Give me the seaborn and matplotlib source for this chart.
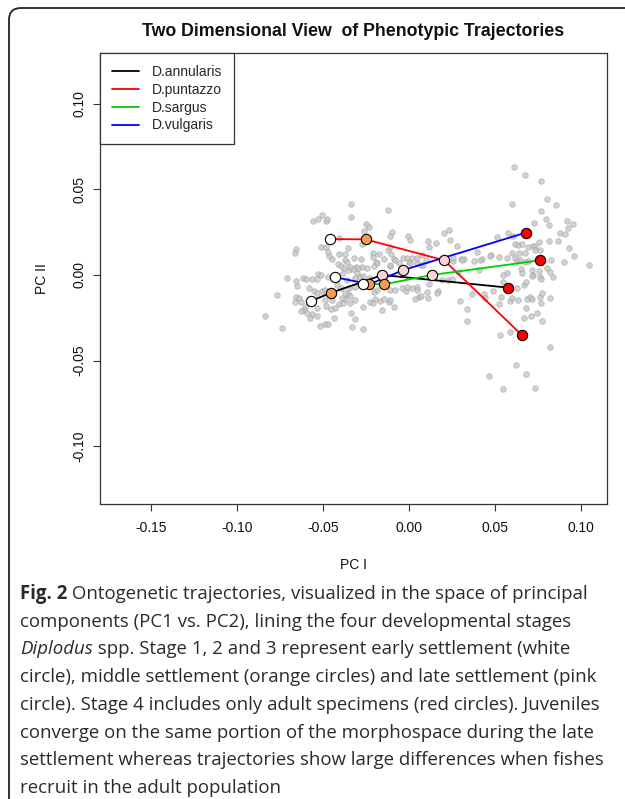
import numpy as np
import pandas as pd
import matplotlib
matplotlib.use("Agg")
import matplotlib.pyplot as plt
import seaborn as sns
from matplotlib.lines import Line2D
from matplotlib.patches import FancyBboxPatch
from matplotlib.transforms import IdentityTransform

# ---------------- data ----------------
species = ["D.annularis", "D.puntazzo", "D.sargus", "D.vulgaris"]
species_colors = ["#000000", "#ff0000", "#00cd00", "#0000ff"]
stages = [1, 2, 3, 4]
stage_fill = ["#ffffff", "#f79a57", "#f8d4d2", "#ff0000"]

annularis_pc1 = [-0.0570, -0.0454, -0.0155, 0.0579]
annularis_pc2 = [-0.0152, -0.0104, 0.0000, -0.0074]
puntazzo_pc1 = [-0.0459, -0.0253, 0.0205, 0.0656]
puntazzo_pc2 = [0.0210, 0.0208, 0.0086, -0.0350]
sargus_pc1 = [-0.0268, -0.0144, 0.0134, 0.0765]
sargus_pc2 = [-0.0051, -0.0054, 0.0000, 0.0086]
vulgaris_pc1 = [-0.0430, -0.0230, -0.0032, 0.0679]
vulgaris_pc2 = [-0.0013, -0.0054, 0.0029, 0.0247]

specimens_pc1 = [
    -0.0335, -0.0123, -0.0335, -0.0507, -0.0527, -0.0560, -0.0484, -0.0476, -0.0251, -0.0230,
    -0.0259, -0.0096, -0.0109, -0.0004, 0.0005, 0.0110, -0.0406, -0.0271, -0.0511, -0.0482,
    -0.0356, -0.0659, -0.0665, -0.0474, -0.0467, -0.0449, -0.0406, -0.0372, -0.0374, -0.0412,
    -0.0395, -0.0376, -0.0358, -0.0323, -0.0282, -0.0309, -0.0348, -0.0327, -0.0274, -0.0245,
    -0.0212, -0.0212, -0.0177, -0.0193, -0.0206, -0.0148, -0.0121, -0.0111, -0.0102, -0.0090,
    -0.0113, -0.0059, -0.0034, -0.0010, 0.0017, 0.0001, 0.0046, 0.0069, 0.0073, 0.0097,
    0.0114, -0.0710, -0.0618, -0.0599, -0.0527, -0.0511, -0.0469, -0.0385, -0.0300, -0.0288,
    -0.0269, -0.0230,
    0.0613, 0.0673, 0.0766, 0.0805, 0.0855, 0.0597, 0.0768, 0.0729, 0.0797, 0.0813,
    0.0920, 0.0955, 0.0926, 0.0877, 0.0906, 0.0205, 0.0234, 0.0240, 0.0156, 0.0280,
    0.0302, 0.0321, 0.0381, 0.0428, 0.0395, 0.0477, 0.0525, 0.0570, 0.0615, 0.0514,
    0.0576, 0.0603, 0.0615, 0.0634, 0.0657, 0.0692, 0.0720, 0.0735, 0.0758, 0.0731,
    0.0764, 0.0638, 0.0677, 0.0599, 0.0692, 0.0644, 0.0628, 0.0675, 0.0650, 0.0716,
    0.0758, 0.0813, 0.0867, 0.0929, 0.0960, 0.0904, 0.0826, 0.0801, 0.0824, 0.0838,
    0.1048, 0.0764, 0.0725, 0.0657, 0.0572, 0.0545, 0.0255, 0.0405, 0.0288,
    -0.0655, -0.0564, -0.0537, -0.0653, -0.0585, -0.0554, -0.0535, -0.0509, -0.0488, -0.0770,
    -0.0659, -0.0640, -0.0663, -0.0628, -0.0605, -0.0609, -0.0626, -0.0595, -0.0566, -0.0579,
    -0.0535, -0.0535, -0.0488, -0.0482, -0.0453, -0.0430, -0.0410, -0.0387, -0.0370, -0.0354,
    -0.0344, -0.0315, -0.0838, -0.0741, -0.0517, -0.0488, -0.0469, -0.0436, -0.0340, -0.0313,
    -0.0329, -0.0269, -0.0226, -0.0197, -0.0168, -0.0144, -0.0119, -0.0090, -0.0156, -0.0206,
    -0.0187, -0.0109, -0.0080, -0.0041, -0.0016, 0.0017, 0.0046, 0.0056, 0.0036, 0.0071,
    0.0110, 0.0114, -0.0313, -0.0420, -0.0395, -0.0375, -0.0348, -0.0449,
    0.0168, 0.0191, 0.0230, 0.0253, 0.0298, 0.0337, 0.0335, 0.0366, 0.0434, 0.0440,
    0.0488, 0.0523, 0.0537, 0.0547, 0.0591, 0.0599, 0.0634, 0.0630, 0.0669, 0.0683,
    0.0719, 0.0770, 0.0686, 0.0706, 0.0719, 0.0764, 0.0774, 0.0768, 0.0821, 0.0683,
    0.0708, 0.0669, 0.0747, 0.0772, 0.0531, 0.0589, 0.0821, 0.0626, 0.0681, 0.0465,
    0.0545, 0.0735,
    -0.0343, -0.0295, -0.0188, -0.0110, -0.0081, 0.0007, 0.0045, 0.0084, 0.0259, 0.0309,
    0.0415, 0.0473, -0.0362, -0.0314, -0.0013, 0.0045, 0.0104, 0.0162, -0.0110, -0.0207,
    -0.0265, -0.0343, -0.0392,
]
specimens_pc2 = [
    0.0413, 0.0380, 0.0337, 0.0349, 0.0325, 0.0314, 0.0316, 0.0325, 0.0298, 0.0279,
    0.0259, 0.0250, 0.0228, 0.0228, 0.0207, 0.0199, 0.0214, 0.0181, 0.0162, 0.0162,
    0.0156, 0.0150, 0.0131, 0.0137, 0.0111, 0.0092, 0.0123, 0.0125, 0.0088, 0.0063,
    0.0053, 0.0039, 0.0076, 0.0098, 0.0092, 0.0049, 0.0029, 0.0033, 0.0045, 0.0043,
    0.0131, 0.0103, 0.0125, 0.0078, 0.0053, 0.0096, 0.0146, 0.0162, 0.0121, 0.0092,
    0.0053, 0.0070, 0.0098, 0.0102, 0.0098, 0.0078, 0.0068, 0.0059, 0.0117, 0.0090,
    0.0166, -0.0015, -0.0015, -0.0025, 0.0004, -0.0002, -0.0010, 0.0010, 0.0010, -0.0010,
    -0.0006, -0.0015,
    0.0633, 0.0584, 0.0551, 0.0442, 0.0409, 0.0415, 0.0374, 0.0306, 0.0325, 0.0292,
    0.0314, 0.0296, 0.0273, 0.0248, 0.0240, 0.0248, 0.0263, 0.0205, 0.0189, 0.0170,
    0.0096, 0.0092, 0.0084, 0.0092, 0.0137, 0.0117, 0.0103, 0.0102, 0.0102, 0.0224,
    0.0248, 0.0228, 0.0179, 0.0176, 0.0179, 0.0164, 0.0170, 0.0170, 0.0195, 0.0146,
    0.0146, 0.0127, 0.0127, 0.0127, 0.0084, 0.0088, 0.0080, 0.0078, 0.0035, 0.0030,
    0.0026, 0.0197, 0.0199, 0.0156, 0.0113, 0.0074, 0.0088, 0.0043, 0.0020, -0.0009,
    0.0057, -0.0009, 0.0000, 0.0014, 0.0010, 0.0000, 0.0084, 0.0030, 0.0020,
    -0.0037, -0.0025, -0.0021, -0.0066, -0.0078, -0.0092, -0.0103, -0.0093, -0.0088, -0.0117,
    -0.0127, -0.0132, -0.0156, -0.0160, -0.0185, -0.0204, -0.0210, -0.0224, -0.0230, -0.0253,
    -0.0191, -0.0239, -0.0146, -0.0181, -0.0201, -0.0195, -0.0171, -0.0165, -0.0140, -0.0113,
    -0.0125, -0.0148, -0.0239, -0.0312, -0.0296, -0.0288, -0.0288, -0.0253, -0.0222, -0.0259,
    -0.0306, -0.0317, -0.0160, -0.0140, -0.0152, -0.0140, -0.0160, -0.0185, -0.0204, -0.0097,
    -0.0088, -0.0088, -0.0088, -0.0078, -0.0093, -0.0074, -0.0068, -0.0127, -0.0140, -0.0121,
    -0.0132, -0.0055, -0.0019, -0.0058, -0.0078, -0.0107, -0.0078, -0.0146,
    -0.0092, -0.0029, -0.0029, -0.0025, -0.0152, -0.0201, -0.0267, -0.0113, -0.0111, -0.0136,
    -0.0093, -0.0169, -0.0130, -0.0043, -0.0152, -0.0136, -0.0146, -0.0078, -0.0058, -0.0039,
    -0.0006, -0.0025, -0.0142, -0.0127, -0.0140, -0.0127, -0.0107, -0.0166, -0.0132, -0.0191,
    -0.0238, -0.0253, -0.0224, -0.0267, -0.0350, -0.0331, -0.0423, -0.0526, -0.0580, -0.0588,
    -0.0668, -0.0662,
    0.0049, 0.0039, 0.0068, 0.0058, 0.0088, 0.0068, 0.0097, 0.0058, 0.0097, 0.0088,
    0.0088, 0.0111, -0.0029, -0.0068, -0.0068, -0.0088, -0.0097, -0.0107, -0.0146, -0.0165,
    -0.0185, -0.0165, -0.0136,
]

x_ticks = [-0.15, -0.10, -0.05, 0.00, 0.05, 0.10]
x_tick_labels = ["-0.15", "-0.10", "-0.05", "0.00", "0.05", "0.10"]
y_ticks = [-0.10, -0.05, 0.00, 0.05, 0.10]
y_tick_labels = ["-0.10", "-0.05", "0.00", "0.05", "0.10"]

title = "Two Dimensional View  of Phenotypic Trajectories"
x_label = "PC I"
y_label = "PC II"

caption_lines = [
    [("Fig. 2", "normal", "bold"), (" Ontogenetic trajectories, visualized in the space of principal", "normal", "normal")],
    [("components (PC1 vs. PC2), lining the four developmental stages", "normal", "normal")],
    [("Diplodus", "italic", "normal"), (" spp. Stage 1, 2 and 3 represent early settlement (white", "normal", "normal")],
    [("circle), middle settlement (orange circles) and late settlement (pink", "normal", "normal")],
    [("circle). Stage 4 includes only adult specimens (red circles). Juveniles", "normal", "normal")],
    [("converge on the same portion of the morphospace during the late", "normal", "normal")],
    [("settlement whereas trajectories show large differences when fishes", "normal", "normal")],
    [("recruit in the adult population", "normal", "normal")],
]

# ---------------- frames ----------------
traj_pc1 = [annularis_pc1, puntazzo_pc1, sargus_pc1, vulgaris_pc1]
traj_pc2 = [annularis_pc2, puntazzo_pc2, sargus_pc2, vulgaris_pc2]
rows = []
for sp, xs, ys in zip(species, traj_pc1, traj_pc2):
    for st, x, y in zip(stages, xs, ys):
        rows.append({"species": sp, "stage": st, "pc1": x, "pc2": y})
traj = pd.DataFrame(rows)
spec = pd.DataFrame({"pc1": specimens_pc1, "pc2": specimens_pc2})

# ---------------- plot ----------------
sns.set_theme(style="white")
plt.rcParams["font.family"] = ["Liberation Sans", "DejaVu Sans"]

W, H = 625, 799
fig = plt.figure(figsize=(W / 100, H / 100), dpi=100)
ax_l, ax_r, ax_t, ax_b = 100, 607, 53, 504
ax = fig.add_axes([ax_l / W, 1 - ax_b / H, (ax_r - ax_l) / W, (ax_b - ax_t) / H])

sns.scatterplot(data=spec, x="pc1", y="pc2", ax=ax, s=16, color="#c4c4c4",
                edgecolor="#a0a0a0", linewidth=0.5, alpha=0.75, legend=False, zorder=1)

sns.lineplot(data=traj, x="pc1", y="pc2", hue="species", hue_order=species,
             palette=species_colors, sort=False, estimator=None, ax=ax,
             linewidth=1.3, legend=False, zorder=2)

for st in reversed(stages):
    sub = traj[traj["stage"] == st]
    sns.scatterplot(data=sub, x="pc1", y="pc2", ax=ax, s=55, color=stage_fill[st - 1],
                    edgecolor="black", linewidth=0.8, legend=False, zorder=3 + (4 - st))

ax.set_xlim(-0.1799, 0.1153)
ax.set_ylim(-0.1338, 0.1297)
ax.set_xticks(x_ticks)
ax.set_xticklabels(x_tick_labels)
ax.set_yticks(y_ticks)
ax.set_yticklabels(y_tick_labels)
ax.tick_params(axis="both", direction="out", length=5, width=0.8, color="#333333",
               labelsize=10, labelcolor="#111111", bottom=True, left=True)
ax.tick_params(axis="x", pad=7)
ax.tick_params(axis="y", pad=5, labelrotation=90)
for lab in ax.get_yticklabels():
    lab.set_va("center")
for sp in ax.spines.values():
    sp.set_color("#333333")
    sp.set_linewidth(0.9)

ax.set_xlabel(x_label, fontsize=10, color="#111111")
ax.set_ylabel(y_label, fontsize=10, color="#111111")
ax.xaxis.set_label_coords(0.5, (ax_b - 565) / (ax_b - ax_t))
ax.yaxis.set_label_coords((41.7 - ax_l) / (ax_r - ax_l), 0.5)
ax.xaxis.label.set_va("center")
ax.yaxis.label.set_va("center")
ax.yaxis.label.set_ha("center")

handles = [Line2D([0], [0], color=c, lw=1.3) for c in species_colors]
leg = ax.legend(handles, species, loc="upper left", bbox_to_anchor=(0, 1),
                borderaxespad=0, frameon=True, fancybox=False, framealpha=1,
                edgecolor="#333333", fontsize=10, handlelength=1.95,
                handletextpad=0.95, borderpad=0.85, labelspacing=0.28)
leg.get_frame().set_linewidth(0.9)
leg.set_zorder(10)

fig.text((ax_l + ax_r) / 2 / W, 1 - 32 / H, title, ha="center", va="center",
         fontsize=12.8, fontweight="bold", color="#111111")

# outer rounded frame (left and top edges visible)
frame = FancyBboxPatch((9, -100), 900, H - 8 + 100,
                       boxstyle="round,pad=0,rounding_size=12",
                       transform=IdentityTransform(), fill=False,
                       linewidth=1.3, edgecolor="#222222")
fig.add_artist(frame)

# caption
renderer = fig.canvas.get_renderer()
for i, pieces in enumerate(caption_lines):
    x = 20
    y = 599 + 27.7 * i
    for txt, style, weight in pieces:
        t = fig.text(x / W, 1 - y / H, txt, fontsize=13.4, family=["Open Sans", "DejaVu Sans"],
                     style=style, weight=weight, ha="left", va="baseline", color="#2a2a2a")
        x += t.get_window_extent(renderer).width

fig.savefig("out.png", dpi=100)
